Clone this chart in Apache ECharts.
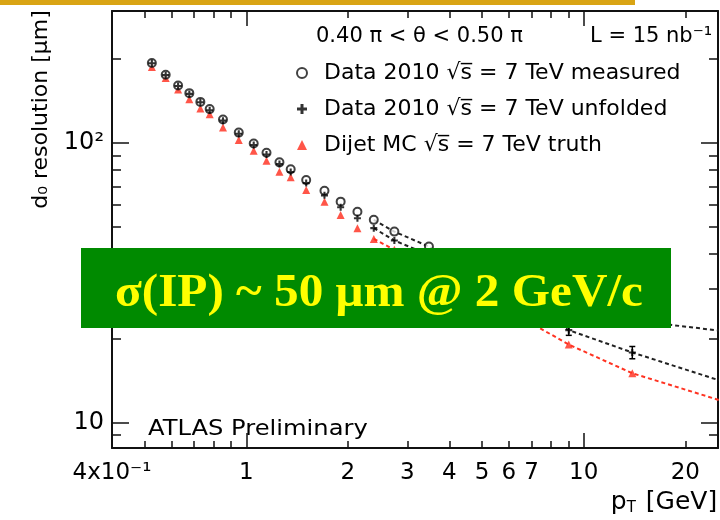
<!DOCTYPE html>
<html><head><meta charset="utf-8">
<script src="https://cdn.jsdelivr.net/npm/echarts@6/dist/echarts.min.js"></script>
<style>html,body{margin:0;padding:0;background:#fff}#c{width:720px;height:520px}</style>
</head><body><div id="c"></div>
<script>
// ---- data ----
const pT = [0.525, 0.577, 0.628, 0.678, 0.731, 0.779, 0.853, 0.950, 1.052, 1.148, 1.254, 1.354, 1.505, 1.705, 1.904, 2.135, 2.387, 2.747, 3.478, 4.5, 6.2, 9.03, 13.93, 32];
const measured = [193.6, 175.7, 160.7, 150.9, 140.4, 132.3, 121.5, 109.0, 99.7, 92.3, 85.3, 80.6, 73.8, 67.5, 61.7, 56.8, 53.1, 48.2, 42.6, 36.5, 30.5, 25.8, 23.2, 20.6];
const unfolded = [193, 175, 160, 150, 140, 131, 120.3, 108, 98.4, 91, 84.1, 78.8, 71.9, 65.0, 58.9, 53.8, 49.6, 44.8, 39.8, 33.5, 27.5, 21.4, 17.8, 12.9];
const unfoldedErr = [0, 0, 0, 0, 0, 0, 0, 0, 0, 0, 0, 0, 0, 0, 0, 0, 0, 0, 0, 0, 0, 0.9, 0.9, 0];
const truth = [187.3, 171.1, 155.5, 143.6, 133.0, 126.9, 113.8, 102.5, 93.9, 86.5, 79.0, 75.4, 67.9, 61.7, 55.3, 49.6, 45.4, 41.5, 36.0, 30.0, 24.6, 19.0, 15.0, 11.0];
const dashFrom = 16; // dashed connecting lines start at this bin

const seriesNames = ['Data 2010 √s̅ = 7 TeV measured', 'Data 2010 √s̅ = 7 TeV unfolded', 'Dijet MC √s̅ = 7 TeV truth'];

const xRange = [0.4, 25];
const yRange = [8.1, 297];
const xMinorTicks = [0.5, 0.6, 0.7, 0.8, 0.9, 2, 3, 4, 5, 6, 7, 8, 9, 20];
const xMajorTicks = [1, 10];
const xLabelValues = [0.4, 1, 2, 3, 4, 5, 6, 7, 10, 20];
const xLabelTexts = ['4x10⁻¹', '1', '2', '3', '4', '5', '6', '7', '10', '20'];
const yMinorTicks = [9, 20, 30, 40, 50, 60, 70, 80, 90, 200];
const yMajorTicks = [10, 100];
const yLabelValues = [10, 100];
const yLabelTexts = ['10', '10²'];

// ---- chart ----
const FONT = 'DejaVu Sans';
const pair = (xs, ys) => xs.map((x, i) => [x, ys[i]]);

function xAxisDef(pos, ticks, len, withLabels, withLine) {
  return {
    type: 'log', logBase: 10, min: xRange[0], max: xRange[1], position: pos,
    axisLine: { show: withLine, onZero: false, lineStyle: { color: '#111', width: 2 } },
    axisTick: { show: true, inside: true, length: len, customValues: ticks, lineStyle: { color: '#111', width: 1.5 } },
    axisLabel: withLabels ? {
      show: true, customValues: xLabelValues, margin: 14, hideOverlap: false,
      fontFamily: FONT, fontSize: 23, color: '#000',
      formatter: v => { const i = xLabelValues.findIndex(t => Math.abs(t - v) < 1e-6 * t); return i >= 0 ? xLabelTexts[i] : ''; }
    } : { show: false },
    splitLine: { show: false }, minorTick: { show: false }, minorSplitLine: { show: false }
  };
}
function yAxisDef(pos, ticks, len, withLabels, withLine) {
  return {
    type: 'log', logBase: 10, min: yRange[0], max: yRange[1], position: pos,
    axisLine: { show: withLine, onZero: false, lineStyle: { color: '#111', width: 2 } },
    axisTick: { show: true, inside: true, length: len, customValues: ticks, lineStyle: { color: '#111', width: 1.5 } },
    axisLabel: withLabels ? {
      show: true, customValues: yLabelValues, margin: 8,
      fontFamily: FONT, fontSize: 24, color: '#000',
      formatter: v => { const i = yLabelValues.findIndex(t => Math.abs(t - v) < 1e-6 * t); return i >= 0 ? yLabelTexts[i] : ''; }
    } : { show: false },
    splitLine: { show: false }, minorTick: { show: false }, minorSplitLine: { show: false }
  };
}

const xAxes = [
  xAxisDef('bottom', xMinorTicks, 7, true, true),
  xAxisDef('bottom', xMajorTicks, 15, false, false),
  xAxisDef('top', xMinorTicks, 7, false, true),
  xAxisDef('top', xMajorTicks, 15, false, false)
];
xAxes[0].name = '{p|p}{t|T}{g| [GeV]}';
xAxes[0].nameLocation = 'middle';
xAxes[0].nameGap = 40;
xAxes[0].nameTextStyle = {
  padding: [0, 0, 0, 498],
  rich: {
    p: { fontFamily: FONT, fontSize: 25, color: '#000' },
    t: { fontFamily: FONT, fontSize: 15, color: '#000', verticalAlign: 'bottom', padding: [12, 2, 0, 0] },
    g: { fontFamily: FONT, fontSize: 25, color: '#000' }
  }
};
const yAxes = [
  yAxisDef('left', yMinorTicks, 9, true, true),
  yAxisDef('left', yMajorTicks, 17, false, false),
  yAxisDef('right', yMinorTicks, 9, false, true),
  yAxisDef('right', yMajorTicks, 17, false, false)
];
yAxes[0].name = 'd₀ resolution [μm]';
yAxes[0].nameLocation = 'middle';
yAxes[0].nameRotate = 90;
yAxes[0].nameGap = 60;
yAxes[0].nameTextStyle = { fontFamily: FONT, fontSize: 22, color: '#000', padding: [0, 0, 0, 240] };

const crossPath = 'path://M3.5,0 L6.5,0 L6.5,3.5 L10,3.5 L10,6.5 L6.5,6.5 L6.5,10 L3.5,10 L3.5,6.5 L0,6.5 L0,3.5 L3.5,3.5 Z';

const option = {
  animation: false,
  backgroundColor: '#fff',
  grid: { left: 112, right: 2, top: 11, bottom: 72, containLabel: false, outerBoundsMode: 'none' },
  xAxis: xAxes,
  yAxis: yAxes,
  legend: {
    orient: 'vertical', left: 291, top: 57, itemGap: 14,
    itemWidth: 10, itemHeight: 10, selectedMode: false,
    data: seriesNames,
    textStyle: { fontFamily: FONT, fontSize: 22, color: '#000', lineHeight: 22, padding: [0, 0, 0, 12] }
  },
  series: [
    { name: 'measured-line', type: 'line', data: pair(pT, measured).slice(dashFrom), symbol: 'none', z: 1,
      lineStyle: { color: '#222', width: 2, type: [4, 3] }, clip: true },
    { name: 'unfolded-line', type: 'line', data: pair(pT, unfolded).slice(dashFrom), symbol: 'none', z: 1,
      lineStyle: { color: '#222', width: 2, type: [4, 3] }, clip: true },
    { name: 'truth-line', type: 'line', data: pair(pT, truth).slice(dashFrom), symbol: 'none', z: 1,
      lineStyle: { color: '#ff3322', width: 2, type: [4, 3] }, clip: true },
    { name: seriesNames[2], type: 'scatter', data: pair(pT, truth), symbol: 'triangle', symbolSize: 8,
      z: 2, itemStyle: { color: '#ff2a1a' }, clip: true },
    { name: seriesNames[0], type: 'scatter', data: pair(pT, measured), symbol: 'emptyCircle', symbolSize: 8,
      z: 3, itemStyle: { color: '#111', borderColor: '#111', borderWidth: 2 }, clip: true },
    { name: seriesNames[1], type: 'scatter', data: pair(pT, unfolded), symbol: crossPath, symbolSize: 7,
      z: 4, itemStyle: { color: '#000' }, clip: true },
    { name: 'unfolded-err', type: 'custom', z: 4, clip: true,
      data: pT.map((p, i) => [p, unfolded[i], unfoldedErr[i]]),
      renderItem: function (params, api) {
        const x = api.value(0), y = api.value(1), e = api.value(2);
        if (!e) return null;
        const a = api.coord([x, y + e]), b = api.coord([x, y - e]);
        const st = { stroke: '#000', lineWidth: 1.5 };
        return { type: 'group', children: [
          { type: 'line', shape: { x1: a[0], y1: a[1], x2: b[0], y2: b[1] }, style: st },
          { type: 'line', shape: { x1: a[0] - 3, y1: a[1], x2: a[0] + 3, y2: a[1] }, style: st },
          { type: 'line', shape: { x1: b[0] - 3, y1: b[1], x2: b[0] + 3, y2: b[1] }, style: st }
        ] };
      }
    }
  ],
  graphic: [
    { type: 'rect', left: 0, top: 0, shape: { width: 635, height: 5 }, style: { fill: '#d9a414' }, z: 10 },
    { type: 'text', x: 316, y: 37, style: { text: '0.40 π < θ < 0.50 π', font: '21px "DejaVu Sans"', fill: '#000', verticalAlign: 'middle' }, z: 10 },
    { type: 'text', x: 590, y: 37, style: { text: 'L = 15 nb⁻¹', font: '21px "DejaVu Sans"', fill: '#000', verticalAlign: 'middle' }, z: 10 },
    { type: 'text', x: 148, y: 429, scaleX: 1.1, style: { text: 'ATLAS Preliminary', font: '22px "DejaVu Sans"', fill: '#000', verticalAlign: 'middle' }, z: 10 },
    { type: 'rect', left: 81, top: 248, shape: { width: 590, height: 80 }, style: { fill: '#008a00' }, z: 50 },
    { type: 'text', x: 379, y: 294, scaleX: 1.07, style: { text: 'σ(IP) ~ 50 μm @ 2 GeV/c', font: 'bold 46px "Liberation Serif"', fill: '#ffff00', align: 'center', verticalAlign: 'middle' }, z: 51 }
  ]
};

const chart = echarts.init(document.getElementById('c'), null, { renderer: 'canvas' });
chart.setOption(option);
</script>
</body></html>
